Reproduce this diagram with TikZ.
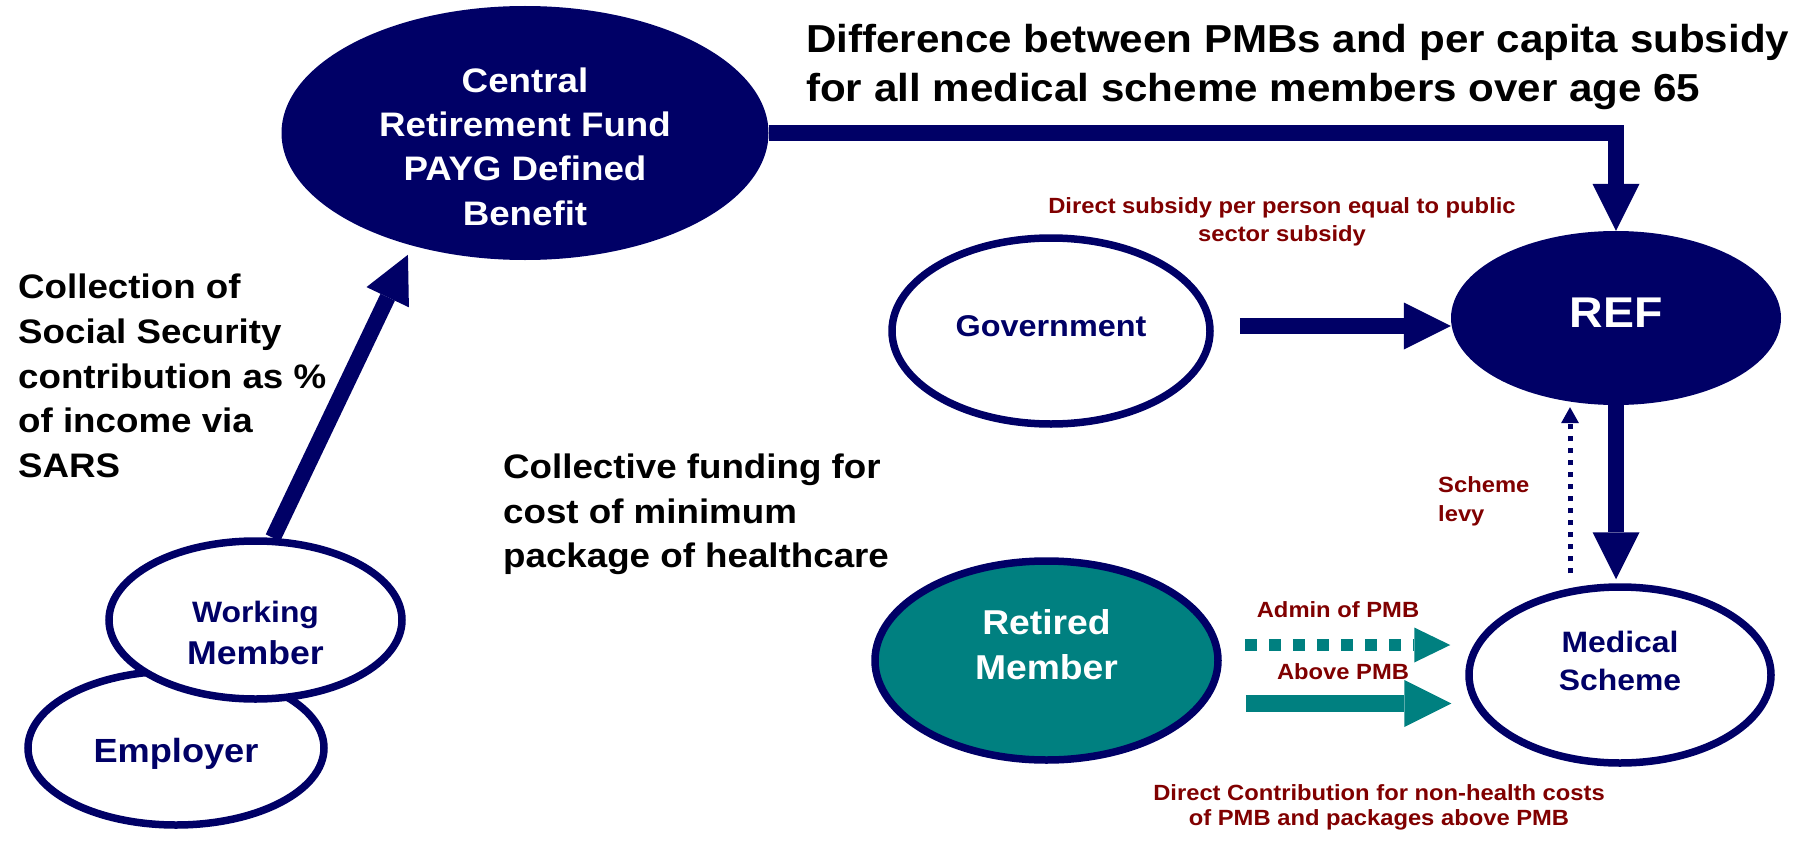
\documentclass[tikz,border=0pt]{standalone}
\usepackage{fontspec}
\setmainfont[FakeStretch=1.08]{Liberation Sans}
\usetikzlibrary{arrows.meta,shapes.geometric}

\definecolor{navy}{HTML}{000066}
\definecolor{tealfill}{HTML}{008080}
\definecolor{labelred}{HTML}{800000}

\newcommand{\setsz}[2]{\fontsize{#1}{#2}\selectfont\bfseries}

\begin{document}
\begin{tikzpicture}[x=1pt, y=-1pt,
		bubble/.style={ellipse, draw=navy, line width=7.5pt, fill=white, inner sep=0pt},
		solidbubble/.style={ellipse, fill=navy, inner sep=0pt},
		txt/.style={inner sep=0pt, align=center},
		flow/.style={draw=navy, line width=16pt, -{Triangle[width=47pt, length=47pt, line width=0pt]}},
		admin/.style={draw=tealfill, line width=12pt, dash pattern=on 12pt off 12pt, -{Triangle[width=35pt, length=36pt, line width=0pt]}},
		extra/.style={draw=tealfill, line width=17pt, -{Triangle[width=47pt, length=47pt, line width=0pt]}},
		levy/.style={draw=navy, line width=5pt, dash pattern=on 5pt off 7pt, -{Triangle[width=18pt, length=16pt, line width=0pt]}}]
		\useasboundingbox (0,0) rectangle (1818,843);

		% ellipses
		\node[bubble, minimum width=296pt, minimum height=154pt] (emp) at (176,748) {};
		\node[bubble, minimum width=293pt, minimum height=158pt] (wm) at (255.5,620) {};
		\node[solidbubble, minimum width=487pt, minimum height=254pt] (crf) at (525,133) {};
		\node[solidbubble, minimum width=330pt, minimum height=174pt] (ref) at (1616,318) {};
		\node[bubble, minimum width=318pt, minimum height=186pt] (gov) at (1051,331) {};
		\node[bubble, fill=tealfill, minimum width=343pt, minimum height=199pt] (rm) at (1046.5,660.5) {};
		\node[bubble, minimum width=302pt, minimum height=176pt] (ms) at (1620,675) {};

		\node[txt, text=navy, font={\setsz{33.5}{40}}] (emp-t) at ([yshift=-5.4pt]emp.center) {Employer};
		\node[txt, text=navy, font={\setsz{33}{42}}] (wm-t) at ([yshift=-12.5pt]wm.center) {{\setsz{29.5}{42}Working}\\Member};
		\node[txt, text=white, font={\setsz{34}{44.3}}] (crf-t) at ([yshift=-13.4pt]crf.center) {Central\\Retirement Fund\\PAYG Defined\\Benefit};
		\node[txt, text=white, font={\setsz{43}{50}}] (ref-t) at ([yshift=5.5pt]ref.center) {REF};
		\node[txt, text=navy, font={\setsz{30}{36}}] (gov-t) at ([yshift=5pt]gov.center) {Government};
		\node[txt, text=white, font={\setsz{34.5}{45}}] (rm-t) at ([yshift=15.5pt]rm.center) {Retired\\Member};
		\node[txt, text=navy, font={\setsz{29.5}{38}}] (ms-t) at ([yshift=14.5pt]ms.center) {Medical\\Scheme};

		% arrows
		\draw[flow, shorten >=10pt] (wm.78) -- (crf.225);
		\draw[flow] (crf.east) -| (ref.north);
		\draw[flow, shorten <=26pt] ([yshift=5pt]gov.east) -- ([yshift=5pt]gov.east -| ref.west);
		\draw[flow, shorten >=4pt] (ref.south) -- (ref.south |- ms.north);
		\draw[levy] ([xshift=-50pt,yshift=10pt]ms.north) -- ([xshift=-46pt,yshift=-2pt]ref.south);
		\draw[admin, shorten <=23pt, shorten >=15pt] ([yshift=15.5pt]rm.east) -- ([yshift=15.5pt]rm.east -| ms.west);
		\draw[extra, shorten <=24pt, shorten >=14pt] ([yshift=-43pt]rm.east) -- ([yshift=-43pt]rm.east -| ms.west);

		% free texts
		\node[txt, align=left, anchor=north west, font={\setsz{39}{49}}] (title) at (806,24)
			{Difference between PMBs and per capita subsidy\\for all medical scheme members over age 65};
		\node[txt, align=left, anchor=north west, font={\setsz{34}{44.7}}] (collect) at (18,274)
			{Collection of\\Social Security\\contribution as \%\\of income via\\SARS};
		\node[txt, align=left, anchor=north west, font={\setsz{34}{44.5}}] (pool) at (503,454)
			{Collective funding for\\cost of minimum\\package of healthcare};
		\node[txt, text=labelred, anchor=north, font={\setsz{22}{28}}] (subsidy) at (1282,197)
			{Direct subsidy per person equal to public\\sector subsidy};
		\node[txt, text=labelred, anchor=base, font={\setsz{22}{26}}] (adminpmb) at (1338,617) {Admin of PMB};
		\node[txt, text=labelred, anchor=base, font={\setsz{22}{26}}] (abovepmb) at (1343,679) {Above PMB};
		\node[txt, text=labelred, align=left, anchor=north west, font={\setsz{22}{29}}] (levy-t) at (1438,476) {Scheme\\levy};
		\node[txt, text=labelred, anchor=north, font={\setsz{22}{25.5}}] (direct) at (1379,784)
			{Direct Contribution for non-health costs\\of PMB and packages above PMB};
	\end{tikzpicture}
\end{document}
